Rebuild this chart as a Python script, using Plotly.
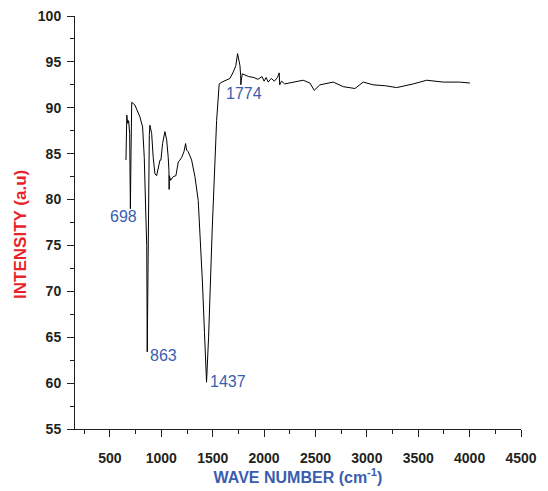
import plotly.graph_objects as go

wavenumber = [656, 664, 668, 674, 682, 692, 697, 699, 705, 712, 743, 775, 792, 818, 834, 847,
              858, 863, 868, 875, 883, 889, 906, 921, 938, 954, 970, 987, 996, 1012, 1035,
              1052, 1067, 1074, 1076, 1078, 1091, 1116, 1142, 1165, 1181, 1198, 1220, 1236,
              1246, 1262, 1295, 1327, 1359, 1376, 1400, 1420, 1440, 1460, 1495, 1538, 1563,
              1590, 1630, 1668, 1700, 1725, 1742, 1755, 1765, 1772, 1774, 1778, 1788, 1830,
              1850, 1900, 1940, 1980, 2000, 2020, 2040, 2070, 2100, 2130, 2147, 2152, 2170,
              2200, 2255, 2320, 2380, 2446, 2488, 2543, 2600, 2673, 2770, 2884, 2965, 3062,
              3180, 3290, 3452, 3582, 3743, 3900, 4003]
intensity = [84.3, 89.2, 88.8, 88.3, 88.6, 87.2, 79.0, 79.0, 85.0, 90.6, 90.3, 89.5, 89.0, 87.9, 84.6, 79.2,
             75.0, 63.4, 70.0, 82.0, 87.0, 88.1, 87.2, 84.6, 82.8, 82.6, 83.6, 84.3, 84.3, 86.1, 87.4,
             86.5, 84.6, 83.2, 81.1, 82.6, 82.1, 82.5, 82.6, 84.1, 84.3, 84.6, 85.2, 86.1,
             85.4, 85.2, 84.3, 82.5, 79.9, 76.7, 71.0, 65.5, 60.1, 65.0, 76.7, 88.6, 92.6,
             92.8, 93.0, 93.2, 93.9, 94.6, 95.9, 95.2, 94.6, 93.5, 92.5, 93.0, 93.7, 93.5,
             93.4, 93.3, 93.1, 93.4, 92.9, 93.3, 92.8, 93.2, 92.9, 93.3, 93.8, 92.5, 92.9,
             92.6, 92.7, 92.9, 93.0, 92.7, 91.9, 92.5, 92.6, 92.8, 92.3, 92.1, 92.8, 92.5,
             92.4, 92.2, 92.6, 93.0, 92.8, 92.8, 92.7]

peak_labels = ["698", "863", "1437", "1774"]
peak_label_x = [636, 1025, 1653, 1804]
peak_label_y = [78.2, 63.0, 60.2, 91.6]

x_ticks = [500, 1000, 1500, 2000, 2500, 3000, 3500, 4000, 4500]
y_ticks = [55, 60, 65, 70, 75, 80, 85, 90, 95, 100]

fig = go.Figure()
fig.add_trace(go.Scatter(x=wavenumber, y=intensity, mode="lines",
                         line=dict(color="black", width=1), showlegend=False,
                         hoverinfo="skip"))

for t, xx, yy in zip(peak_labels, peak_label_x, peak_label_y):
    fig.add_annotation(x=xx, y=yy, text=t, showarrow=False,
                       font=dict(family="Liberation Sans, Arial", size=16, color="#3a5db0"),
                       xanchor="center", yanchor="middle")

# y-axis title placed as an annotation for exact positioning
fig.add_annotation(xref="paper", yref="paper", x=0, y=0.47, xshift=-54,
                   text="INTENSITY (a.u)", textangle=-90, showarrow=False,
                   xanchor="center", yanchor="middle",
                   font=dict(family="Liberation Sans, Arial", size=17,
                             color="#e8232a", weight="bold"))

tickfont = dict(family="Liberation Sans, Arial", size=14, color="#231f20", weight="bold")

fig.update_layout(
    width=540, height=483,
    margin=dict(l=67, r=27, t=8, b=62, autoexpand=False),
    paper_bgcolor="white", plot_bgcolor="white",
    xaxis=dict(range=[160, 4500], tickvals=x_ticks, ticks="outside", ticklen=7,
               tickwidth=1, tickcolor="#231f20", showline=True, linecolor="#231f20",
               linewidth=1, showgrid=False, zeroline=False, tickfont=tickfont,
               ticklabelstandoff=9, automargin=False, ticklabeloverflow="allow",
               minor=dict(dtick=250, tick0=0, ticks="outside", ticklen=4,
                          tickcolor="#231f20", showgrid=False),
               title=dict(text="WAVE NUMBER (cm<sup>-1</sup>)", standoff=0,
                          font=dict(family="Liberation Sans, Arial", size=16,
                                    color="#3a5db0", weight="bold"))),
    yaxis=dict(range=[55, 100], tickvals=y_ticks, ticks="outside", ticklen=7,
               tickwidth=1, tickcolor="#231f20", showline=True, linecolor="#231f20",
               linewidth=1, showgrid=False, zeroline=False, tickfont=tickfont,
               ticklabelstandoff=3, automargin=False, ticklabeloverflow="allow",
               minor=dict(dtick=2.5, tick0=0, ticks="outside", ticklen=4,
                          tickcolor="#231f20", showgrid=False)),
)

fig.write_html("out.html")
